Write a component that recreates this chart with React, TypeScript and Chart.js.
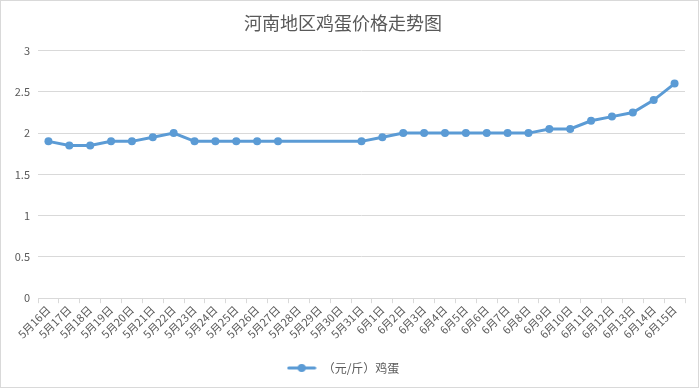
import React, { useEffect, useRef } from "react";
import { Chart, registerables } from "chart.js";

Chart.register(...registerables);

const categories = [
  "5月16日", "5月17日", "5月18日", "5月19日", "5月20日", "5月21日", "5月22日", "5月23日",
  "5月24日", "5月25日", "5月26日", "5月27日", "5月28日", "5月29日", "5月30日", "5月31日",
  "6月1日", "6月2日", "6月3日", "6月4日", "6月5日", "6月6日", "6月7日", "6月8日",
  "6月9日", "6月10日", "6月11日", "6月12日", "6月13日", "6月14日", "6月15日",
];

const eggPrices: (number | null)[] = [
  1.9, 1.85, 1.85, 1.9, 1.9, 1.95, 2.0, 1.9,
  1.9, 1.9, 1.9, 1.9, null, null, null, 1.9,
  1.95, 2.0, 2.0, 2.0, 2.0, 2.0, 2.0, 2.0,
  2.05, 2.05, 2.15, 2.2, 2.25, 2.4, 2.6,
];

const seriesName = "（元/斤）鸡蛋";
const titleText = "河南地区鸡蛋价格走势图";
const FONT = "'Noto Sans CJK SC', 'Microsoft YaHei', sans-serif";
const BLUE = "#5b9bd5";
const TEXT = "#595959";
const GRID = "#d9d9d9";

function legendIcon(): HTMLCanvasElement {
  const c = document.createElement("canvas");
  c.width = 30;
  c.height = 10;
  const ctx = c.getContext("2d")!;
  ctx.strokeStyle = BLUE;
  ctx.lineWidth = 3;
  ctx.lineCap = "round";
  ctx.beginPath();
  ctx.moveTo(2, 5);
  ctx.lineTo(28, 5);
  ctx.stroke();
  ctx.fillStyle = BLUE;
  ctx.beginPath();
  ctx.arc(15, 5, 4, 0, Math.PI * 2);
  ctx.fill();
  return c;
}

export default function App() {
  const ref = useRef<HTMLCanvasElement>(null);
  useEffect(() => {
    document.body.style.margin = "0";
    const icon = legendIcon();
    const chart = new Chart(ref.current!, {
      type: "line",
      data: {
        labels: categories,
        datasets: [
          {
            label: seriesName,
            data: eggPrices,
            borderColor: BLUE,
            backgroundColor: BLUE,
            borderWidth: 3,
            pointRadius: 4,
            pointHoverRadius: 4,
            pointBackgroundColor: BLUE,
            pointBorderColor: BLUE,
            pointBorderWidth: 0,
            pointStyle: "circle",
            spanGaps: true,
            tension: 0,
          },
        ],
      },
      options: {
        animation: false,
        responsive: false,
        layout: { padding: { left: 0, right: 13, top: 8, bottom: 3 } },
        plugins: {
          title: {
            display: true,
            text: titleText,
            color: TEXT,
            font: { family: FONT, size: 18, weight: "normal" },
            padding: { top: 3, bottom: 17 },
          },
          legend: {
            position: "bottom",
            labels: {
              usePointStyle: true,
              pointStyleWidth: 30,
              boxHeight: 10,
              color: TEXT,
              font: { family: FONT, size: 12 },
              padding: 6,
              generateLabels: () => [
                {
                  text: seriesName,
                  pointStyle: icon as any,
                  fillStyle: BLUE,
                  strokeStyle: BLUE,
                  lineWidth: 0,
                  hidden: false,
                  datasetIndex: 0,
                  fontColor: TEXT,
                } as any,
              ],
            },
          },
          tooltip: { enabled: false },
        },
        scales: {
          x: {
            offset: true,
            afterFit: (s: any) => {
              s.height += 15;
            },
            grid: {
              display: true,
              offset: true,
              drawOnChartArea: false,
              drawTicks: true,
              tickLength: 5,
              color: GRID,
            },
            border: { display: true, color: GRID, width: 1 },
            ticks: {
              autoSkip: false,
              maxRotation: 45,
              minRotation: 45,
              color: TEXT,
              font: { family: FONT, size: 11 },
              padding: 0,
            },
          },
          y: {
            min: 0,
            max: 3,
            afterFit: (s: any) => {
              s.width = 37;
            },
            grid: { color: GRID, drawTicks: false },
            border: { display: false },
            ticks: {
              stepSize: 0.5,
              color: TEXT,
              font: { family: FONT, size: 11 },
              padding: 8,
              callback: (v: any) => String(Number(v)),
            },
          },
        },
      },
    });
    return () => chart.destroy();
  }, []);
  return (
    <div
      style={{
        width: 699,
        height: 388,
        border: `1px solid ${GRID}`,
        boxSizing: "border-box",
        background: "#fff",
      }}
    >
      <canvas ref={ref} width={697} height={386} style={{ display: "block" }} />
    </div>
  );
}
